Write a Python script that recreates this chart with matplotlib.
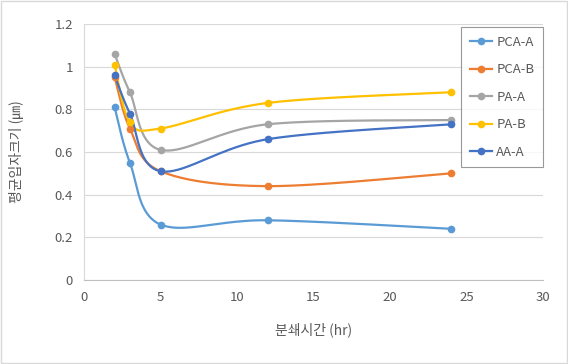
import numpy as np
import matplotlib
matplotlib.use('Agg')
import matplotlib.pyplot as plt

plt.rcParams['font.family'] = ['Noto Sans CJK KR', 'DejaVu Sans']

# grinding time (hr)
hours = [2, 3, 5, 12, 24]

# mean particle size (um) per sample
pca_a = [0.81, 0.55, 0.26, 0.28, 0.24]
pca_b = [0.95, 0.71, 0.51, 0.44, 0.50]
pa_a = [1.06, 0.88, 0.61, 0.73, 0.75]
pa_b = [1.01, 0.74, 0.71, 0.83, 0.88]
aa_a = [0.96, 0.78, 0.51, 0.66, 0.73]

names = ['PCA-A', 'PCA-B', 'PA-A', 'PA-B', 'AA-A']
colors = ['#5B9BD5', '#ED7D31', '#A5A5A5', '#FFC000', '#4472C4']


def smooth(x, y, n=40):
    # Catmull-Rom style bezier, like the smoothed line of a spreadsheet chart
    x = np.asarray(x, float)
    y = np.asarray(y, float)
    px = np.concatenate([[x[0]], x, [x[-1]]])
    py = np.concatenate([[y[0]], y, [y[-1]]])
    xs, ys = [], []
    t = np.linspace(0, 1, n)
    for i in range(1, len(px) - 2):
        p0 = np.array([px[i], py[i]])
        p3 = np.array([px[i + 1], py[i + 1]])
        p1 = p0 + (np.array([px[i + 1], py[i + 1]]) - np.array([px[i - 1], py[i - 1]])) / 6
        p2 = p3 - (np.array([px[i + 2], py[i + 2]]) - np.array([px[i], py[i]])) / 6
        b = ((1 - t) ** 3)[:, None] * p0 + (3 * (1 - t) ** 2 * t)[:, None] * p1 \
            + (3 * (1 - t) * t ** 2)[:, None] * p2 + (t ** 3)[:, None] * p3
        xs.append(b[:, 0])
        ys.append(b[:, 1])
    return np.concatenate(xs), np.concatenate(ys)


fig = plt.figure(figsize=(5.68, 3.64), dpi=100)
ax = fig.add_axes([84 / 568, 84 / 364, 459 / 568, 256 / 364])

for vals, name, c in zip([pca_a, pca_b, pa_a, pa_b, aa_a], names, colors):
    sx, sy = smooth(hours, vals)
    ax.plot(sx, sy, color=c, lw=1.6, zorder=3)
    ax.plot(hours, vals, 'o', color=c, ms=4.5, zorder=4)
    ax.plot([], [], '-o', color=c, lw=1.6, ms=4.5, label=name)

ax.set_xlim(0, 30)
ax.set_ylim(0, 1.2)
ax.set_xticks(np.arange(0, 31, 5))
ax.set_yticks(np.arange(0, 1.21, 0.2))
ax.set_yticklabels(['0', '0.2', '0.4', '0.6', '0.8', '1', '1.2'])
ax.grid(axis='y', color='#D9D9D9', lw=0.8)
ax.set_axisbelow(True)
for s in ['top', 'right']:
    ax.spines[s].set_visible(False)
for s in ['left', 'bottom']:
    ax.spines[s].set_color('#D9D9D9')
ax.spines['bottom'].set_color('#BFBFBF')
ax.tick_params(length=0, labelsize=9.5, colors='#595959', pad=8)

ax.set_xlabel('분쇄시간 (hr)', fontsize=10, color='#595959', labelpad=13)
ax.set_ylabel('평균입자크기 (㎛)', fontsize=10, color='#595959', labelpad=22)

leg = ax.legend(loc='upper right', bbox_to_anchor=(1.0, 0.988), fontsize=9.5,
                frameon=True, fancybox=False, edgecolor='#808080',
                handlelength=1.7, labelspacing=1.1, borderpad=0.65, handletextpad=0.3,
                borderaxespad=0)
leg.get_frame().set_linewidth(0.8)
for t in leg.get_texts():
    t.set_color('#595959')

fig.patches.append(plt.Rectangle((0.002, 0.003), 0.996, 0.994, transform=fig.transFigure,
                                 fill=False, edgecolor='#D9D9D9', lw=1))

fig.savefig('out.png', dpi=100)
